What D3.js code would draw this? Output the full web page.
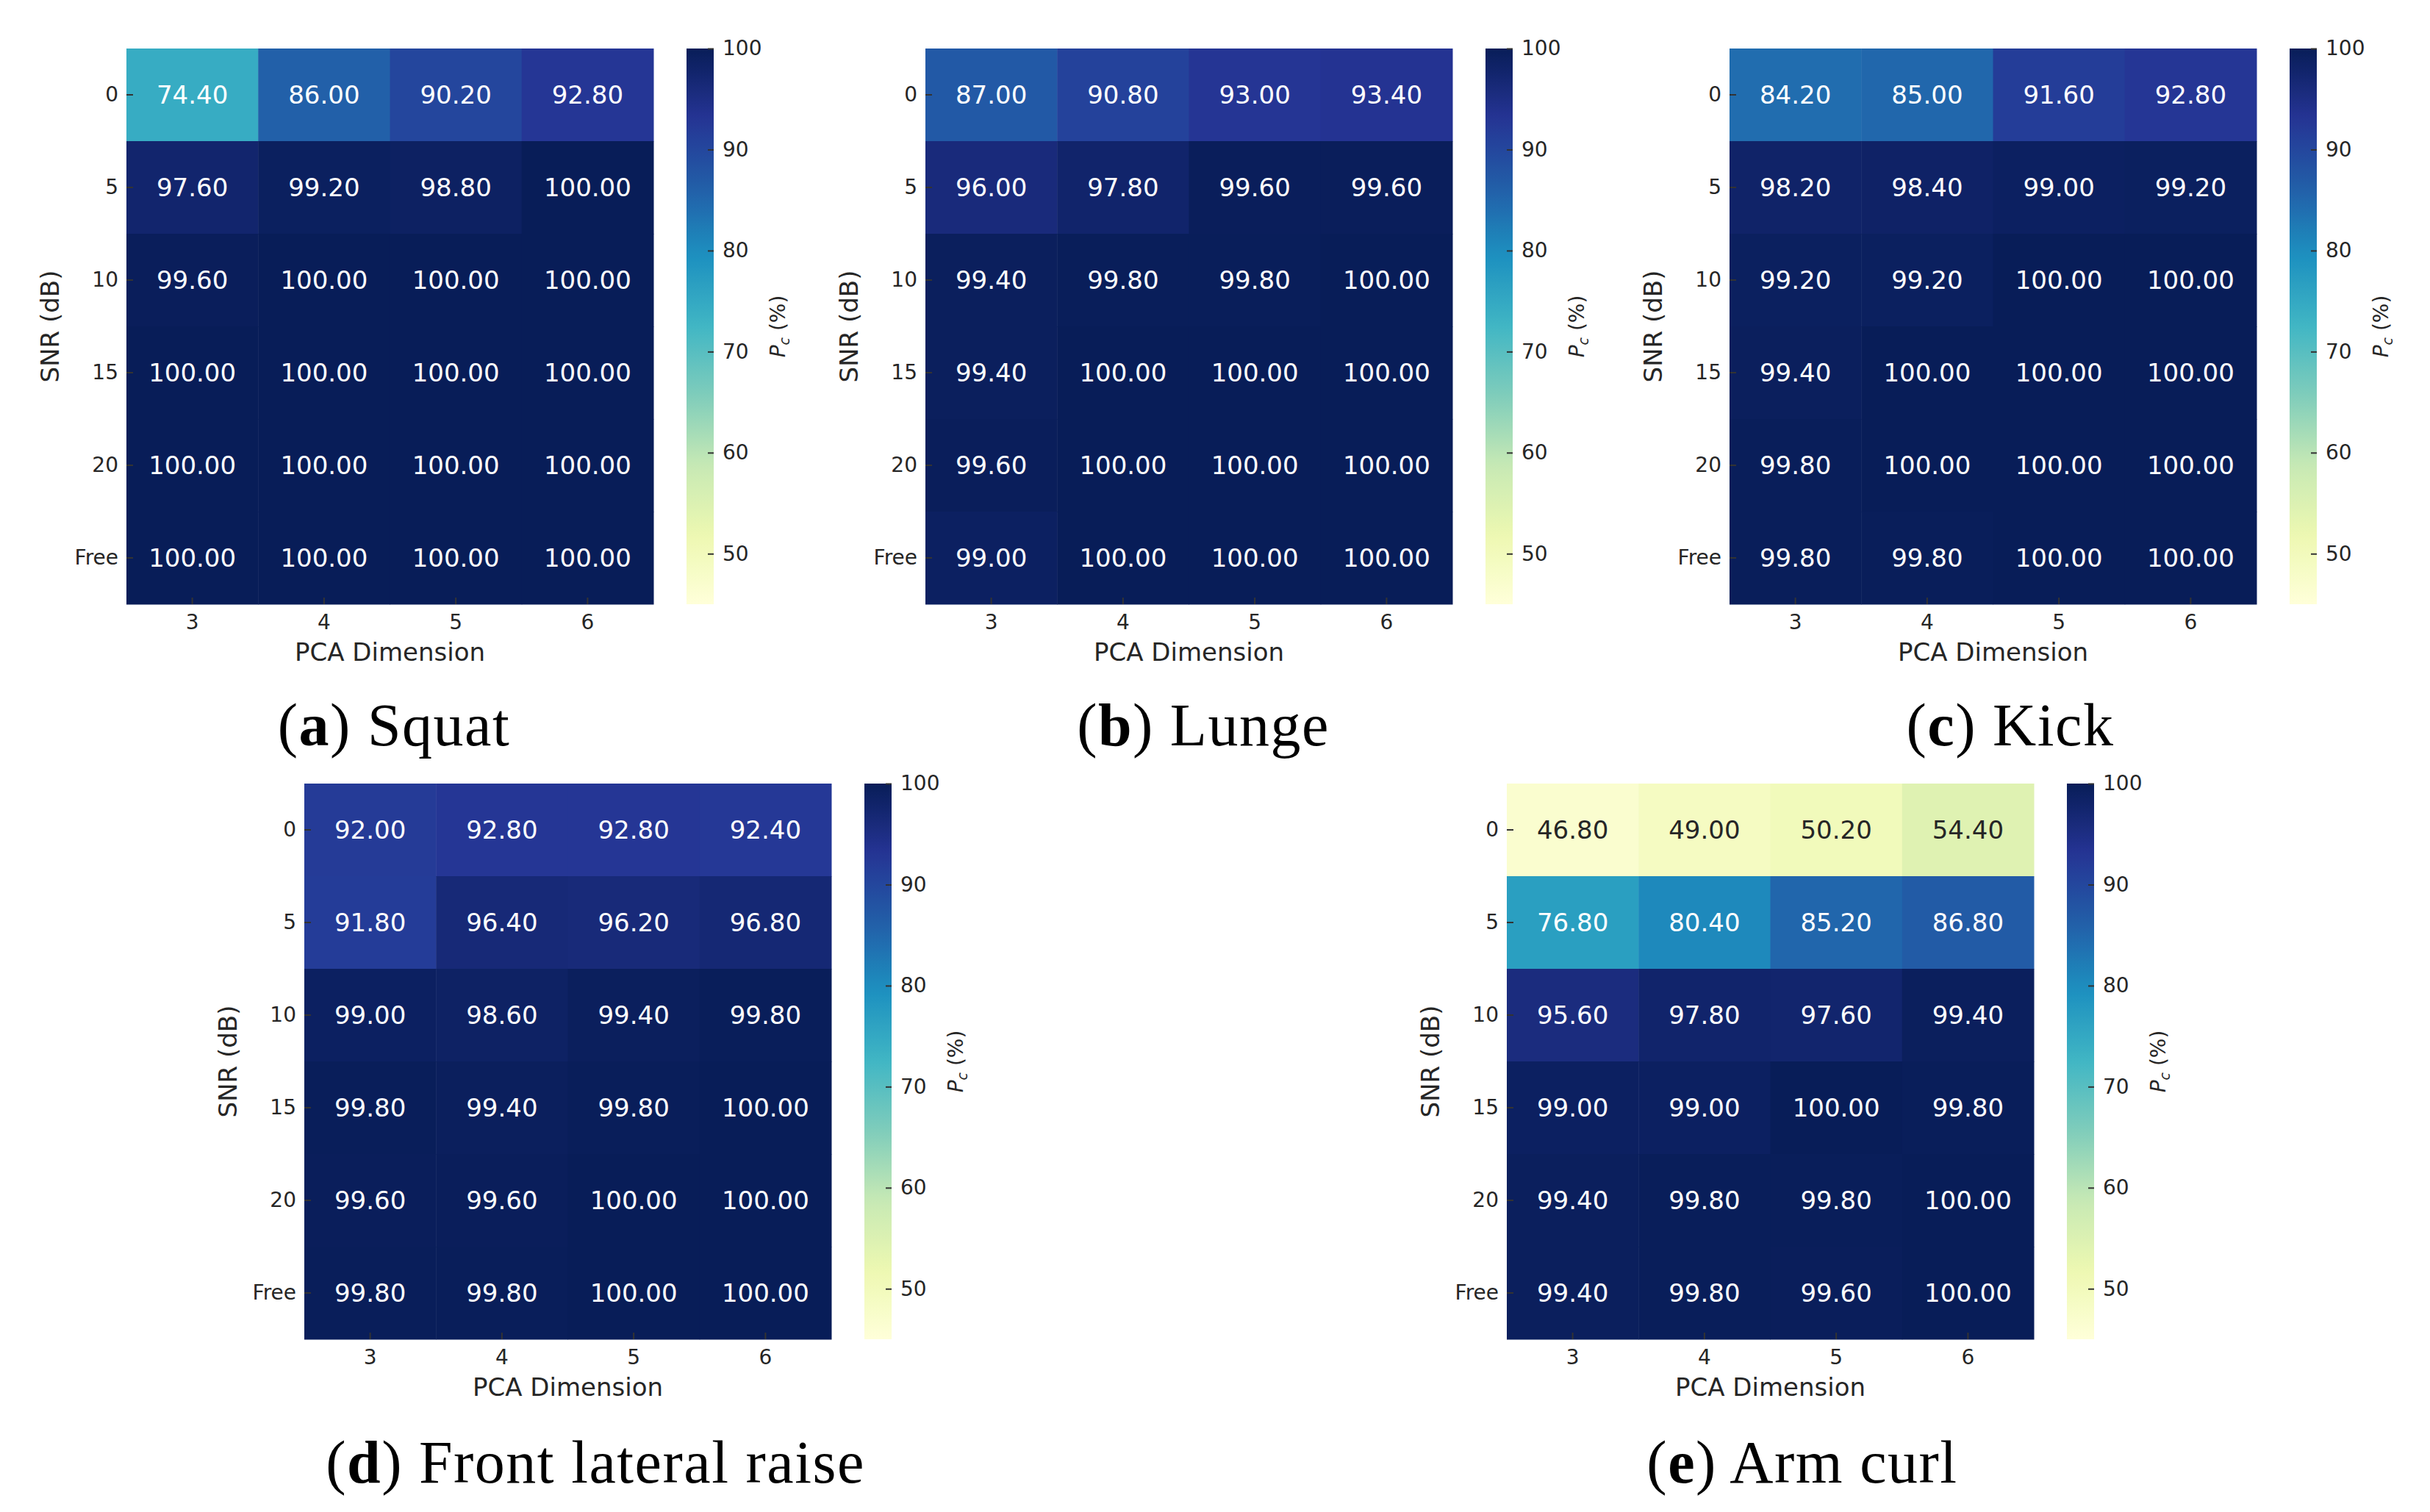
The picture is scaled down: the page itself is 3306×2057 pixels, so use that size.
<!DOCTYPE html>
<html>
<head>
<meta charset="utf-8">
<script src="https://cdn.jsdelivr.net/npm/d3@7"></script>
<style>
  html, body { margin: 0; padding: 0; background: #ffffff; }
  svg { display: block; }
</style>
</head>
<body>
<svg id="chart" width="3306" height="2057"></svg>
<script>
// ---------------- DATA ----------------
const pcaDims = ["3", "4", "5", "6"];
const snrLevels = ["0", "5", "10", "15", "20", "Free"];
const colorTicks = [50, 60, 70, 80, 90, 100];

const squat = [
  [74.40, 86.00, 90.20, 92.80],
  [97.60, 99.20, 98.80, 100.00],
  [99.60, 100.00, 100.00, 100.00],
  [100.00, 100.00, 100.00, 100.00],
  [100.00, 100.00, 100.00, 100.00],
  [100.00, 100.00, 100.00, 100.00]
];
const lunge = [
  [87.00, 90.80, 93.00, 93.40],
  [96.00, 97.80, 99.60, 99.60],
  [99.40, 99.80, 99.80, 100.00],
  [99.40, 100.00, 100.00, 100.00],
  [99.60, 100.00, 100.00, 100.00],
  [99.00, 100.00, 100.00, 100.00]
];
const kick = [
  [84.20, 85.00, 91.60, 92.80],
  [98.20, 98.40, 99.00, 99.20],
  [99.20, 99.20, 100.00, 100.00],
  [99.40, 100.00, 100.00, 100.00],
  [99.80, 100.00, 100.00, 100.00],
  [99.80, 99.80, 100.00, 100.00]
];
const frontLateralRaise = [
  [92.00, 92.80, 92.80, 92.40],
  [91.80, 96.40, 96.20, 96.80],
  [99.00, 98.60, 99.40, 99.80],
  [99.80, 99.40, 99.80, 100.00],
  [99.60, 99.60, 100.00, 100.00],
  [99.80, 99.80, 100.00, 100.00]
];
const armCurl = [
  [46.80, 49.00, 50.20, 54.40],
  [76.80, 80.40, 85.20, 86.80],
  [95.60, 97.80, 97.60, 99.40],
  [99.00, 99.00, 100.00, 99.80],
  [99.40, 99.80, 99.80, 100.00],
  [99.40, 99.80, 99.60, 100.00]
];
const panelLetters = ["a", "b", "c", "d", "e"];
const panelNames = ["Squat", "Lunge", "Kick", "Front lateral raise", "Arm curl"];
const panelValues = [squat, lunge, kick, frontLateralRaise, armCurl];
const valueMin = 45, valueMax = 100;

// ---------------- LAYOUT ----------------
const hmW = 717, hmH = 756;
const cbOffset = 762, cbW = 37;
const layout = [
  { x: 172,  y: 66,   capX: 536,  capY: 1014 },
  { x: 1259, y: 66,   capX: 1637, capY: 1014 },
  { x: 2353, y: 66,   capX: 2735, capY: 1014 },
  { x: 414,  y: 1066, capX: 810,  capY: 2017 },
  { x: 2050, y: 1066, capX: 2452, capY: 2017 }
];

const sansFont = "'DejaVu Sans', 'Liberation Sans', sans-serif";
const serifFont = "'Liberation Serif', 'DejaVu Serif', serif";
const textGray = "#262626";

// YlGnBu (matplotlib linear segmented from ColorBrewer 9 classes)
const ylgnbu = ["#ffffd9","#edf8b1","#c7e9b4","#7fcdbb","#41b6c4","#1d91c0","#225ea8","#253494","#081d58"];
const color = d3.scaleLinear()
  .domain(ylgnbu.map((_, i) => valueMin + (valueMax - valueMin) * i / (ylgnbu.length - 1)))
  .range(ylgnbu)
  .interpolate(d3.interpolateRgb)
  .clamp(true);

function textColorFor(v) {
  const c = d3.rgb(color(v));
  const lin = ch => { ch /= 255; return ch <= 0.03928 ? ch / 12.92 : Math.pow((ch + 0.055) / 1.055, 2.4); };
  const L = 0.2126 * lin(c.r) + 0.7152 * lin(c.g) + 0.0722 * lin(c.b);
  return L > 0.408 ? textGray : "#ffffff";
}

const svg = d3.select("#chart");
const defs = svg.append("defs");

// colorbar gradient
const grad = defs.append("linearGradient")
  .attr("id", "cbgrad").attr("x1", 0).attr("y1", 1).attr("x2", 0).attr("y2", 0);
d3.range(0, 1.0001, 0.02).forEach(t => {
  grad.append("stop").attr("offset", t)
    .attr("stop-color", color(valueMin + t * (valueMax - valueMin)));
});

panelValues.forEach((values, p) => {
  const L = layout[p];
  const g = svg.append("g").attr("transform", `translate(${L.x},${L.y})`);

  const x = d3.scaleBand().domain(pcaDims).range([0, hmW]);
  const y = d3.scaleBand().domain(snrLevels).range([0, hmH]);

  const cells = [];
  values.forEach((row, ri) => row.forEach((v, ci) => cells.push({ snr: snrLevels[ri], dim: pcaDims[ci], v })));

  g.selectAll("rect.cell").data(cells).join("rect")
    .attr("class", "cell")
    .attr("x", d => x(d.dim))
    .attr("y", d => y(d.snr))
    .attr("width", x.bandwidth() + 0.5)
    .attr("height", y.bandwidth() + 0.5)
    .attr("fill", d => color(d.v));

  g.selectAll("text.val").data(cells).join("text")
    .attr("class", "val")
    .attr("x", d => x(d.dim) + x.bandwidth() / 2)
    .attr("y", d => y(d.snr) + y.bandwidth() / 2)
    .attr("text-anchor", "middle")
    .attr("dominant-baseline", "central")
    .attr("font-family", sansFont)
    .attr("font-size", 34)
    .attr("fill", d => textColorFor(d.v))
    .text(d => d.v.toFixed(2));

  // Y axis (ticks inward)
  const yAxis = g.append("g")
    .call(d3.axisLeft(y).tickSize(-9).tickPadding(11));
  yAxis.select(".domain").remove();
  yAxis.selectAll(".tick line").attr("stroke", "#333").attr("stroke-width", 2);
  yAxis.selectAll(".tick text").attr("font-family", sansFont).attr("font-size", 28).attr("fill", textGray);

  // X axis
  const xAxis = g.append("g").attr("transform", `translate(0,${hmH})`)
    .call(d3.axisBottom(x).tickSize(-9).tickPadding(14));
  xAxis.select(".domain").remove();
  xAxis.selectAll(".tick line").attr("stroke", "#333").attr("stroke-width", 2);
  xAxis.selectAll(".tick text").attr("font-family", sansFont).attr("font-size", 28).attr("fill", textGray);

  // Axis titles
  g.append("text")
    .attr("x", hmW / 2).attr("y", hmH + 77)
    .attr("text-anchor", "middle")
    .attr("font-family", sansFont).attr("font-size", 34).attr("fill", textGray)
    .text("PCA Dimension");
  g.append("text")
    .attr("transform", `translate(-92,${hmH / 2}) rotate(-90)`)
    .attr("text-anchor", "middle")
    .attr("font-family", sansFont).attr("font-size", 34).attr("fill", textGray)
    .text("SNR (dB)");

  // Colorbar
  const cb = g.append("g").attr("transform", `translate(${cbOffset},0)`);
  cb.append("rect").attr("x", 0).attr("y", 0).attr("width", cbW).attr("height", hmH)
    .attr("fill", "url(#cbgrad)");
  const cbScale = d3.scaleLinear().domain([valueMin, valueMax]).range([hmH, 0]);
  const cbAxis = cb.append("g").attr("transform", `translate(${cbW},0)`)
    .call(d3.axisRight(cbScale).tickValues(colorTicks).tickSize(-8).tickPadding(12));
  cbAxis.select(".domain").remove();
  cbAxis.selectAll(".tick line").attr("stroke", "#333").attr("stroke-width", 2);
  cbAxis.selectAll(".tick text").attr("font-family", sansFont).attr("font-size", 28).attr("fill", textGray);

  const cbLabel = cb.append("text")
    .attr("transform", `translate(${cbW + 97},${hmH / 2}) rotate(-90)`)
    .attr("text-anchor", "middle")
    .attr("font-family", sansFont).attr("font-size", 28).attr("fill", textGray);
  cbLabel.append("tspan").attr("font-style", "italic").text("P");
  cbLabel.append("tspan").attr("font-style", "italic").attr("font-size", 19).attr("dy", 6).text("c");
  cbLabel.append("tspan").attr("dy", -6).text(" (%)");

  // Caption
  const cap = svg.append("text")
    .attr("x", L.capX).attr("y", L.capY)
    .attr("text-anchor", "middle")
    .attr("font-family", serifFont).attr("font-size", 82).attr("letter-spacing", 1.5)
    .attr("fill", "#000");
  cap.append("tspan").text("(");
  cap.append("tspan").attr("font-weight", "bold").text(panelLetters[p]);
  cap.append("tspan").text(") " + panelNames[p]);
});
</script>
</body>
</html>
